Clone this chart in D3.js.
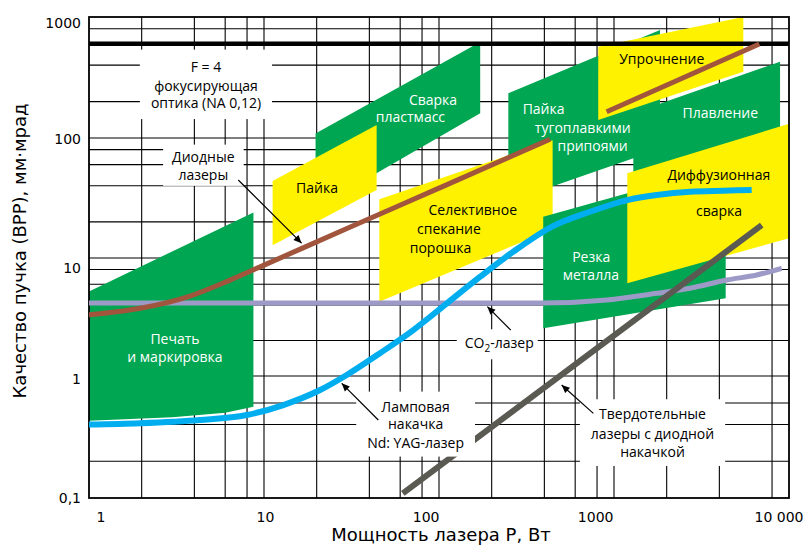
<!DOCTYPE html>
<html>
<head>
<meta charset="utf-8">
<script src="https://cdn.jsdelivr.net/npm/d3@7"></script>
<style>
  html, body { margin: 0; padding: 0; background: #fff; }
  svg { display: block; }
</style>
</head>
<body>
<svg id="chart" width="804" height="553"></svg>
<script>
// ---- axes ----
const xTicks = [1, 10, 100, 1000, 10000];
const xTickLabels = ["1", "10", "100", "1000", "10 000"];
const yTicks = [0.1, 1, 10, 100, 1000];
const yTickLabels = ["0,1", "1", "10", "100", "1000"];
const xGridValues = [2, 4, 6, 8, 10, 20, 40, 60, 80, 100, 200, 400, 600, 800, 1000, 2000, 4000, 8000];
const yGridValues = [0.2, 0.4, 0.6, 1, 2, 4, 6, 8, 10, 20, 40, 60, 80, 100, 200, 400, 800];
const xTitle = "Мощность лазера P, Вт";
const yTitle = "Качество пучка (BPP), мм·мрад";

// BPP limit for F = 4 focusing optics (NA 0,12)
const opticsLimit = 600;

// ---- application areas: corners as [power W, BPP mm·mrad] ----
const printMarking     = [[1, 5.2], [8.7, 24], [8.7, 0.56], [6, 0.50], [3, 0.46], [1, 0.43]];
const plasticWelding   = [[19.7, 109], [172, 621], [172, 160], [19.7, 25.8]];
const soldering        = [[11.2, 43.8], [44, 128], [44, 36.9], [11.2, 12.8]];
const brazing          = [[249, 234], [1832, 781], [1832, 81], [249, 29.4]];
const powderSintering  = [[45.6, 30.9], [446, 96], [446, 17.4], [45.6, 4.26]];
const melting          = [[1289, 161], [8890, 427], [8890, 121], [1289, 49.2]];
const hardening        = [[813, 569], [5483, 1000], [5483, 353], [813, 141]];
const metalCutting     = [[394, 22.1], [4348, 58.7], [4348, 4.55], [394, 2.54]];
const diffusionWelding = [[1191, 50.8], [10000, 131], [10000, 14.6], [1191, 6.1]];

// ---- laser source curves: [power W, BPP mm·mrad] ----
const diodeLaser = [[1, 3.3], [1.96, 3.75], [3.78, 4.76], [6.4, 6.5], [10, 8.7], [30, 17.7], [100, 38.2], [250, 68.7], [431, 97.5]];
const diodeLaserHigh = [[908, 165], [6767, 599]];
const co2Laser = [[1, 4.15], [30, 4.15], [380, 4.15], [908, 4.41], [1754, 5.02], [2716, 5.54], [4406, 6.51], [6538, 7.18], [9087, 8.18]];
const lampNdYag = [[1, 0.40], [1.96, 0.41], [4.31, 0.436], [7.96, 0.479], [12.9, 0.578], [20.9, 0.767], [29.7, 1.02],
                   [46, 1.56], [71.3, 2.45], [111, 4.13], [172, 6.94], [266, 11.3], [440, 18.2], [729, 24.3],
                   [1191, 30.4], [1754, 33.5], [2716, 35.7], [4213, 36.4], [6121, 36.9]];
const diodePumpedSolid = [[62.1, 0.109], [6982, 18.8]];

// ---- text labels: [text, power, BPP] for the centre of each line ----
const opticsLabel    = [["F = 4", 4.66, 388], ["фокусирующая", 4.66, 269], ["оптика (NA 0,12)", 4.66, 194]];
const printLabel     = [["Печать", 3.10, 2.05], ["и маркировка", 3.10, 1.46]];
const plasticLabel   = [["Сварка", 92.4, 206], ["пластмасс", 68.7, 148]];
const solderLabel    = [["Пайка", 20.1, 38.1]];
const sinterLabel    = [["Селективное", 156, 25.1], ["спекание", 114, 17.3], ["порошка", 102, 12.0]];
const brazeLabel     = [["Пайка", 396, 172], ["тугоплавкими", 663, 121], ["припоями", 754, 85.5]];
const hardenLabel    = [["Упрочнение", 1874, 447]];
const meltLabel      = [["Плавление", 4050, 160]];
const diffusionLabel = [["Диффузионная", 3972, 49.2], ["сварка", 3981, 24.8]];
const cutLabel       = [["Резка", 741, 10.1], ["металла", 737, 7.18]];
const diodeLabel     = [["Диодные", 4.50, 69.8], ["лазеры", 4.50, 49.2]];
const co2Label       = [221, 1.89];
const lampLabel      = [["Ламповая", 73.5, 0.56], ["накачка", 73.5, 0.40], ["Nd: YAG-лазер", 73.5, 0.284]];
const solidLabel     = [["Твердотельные", 1660, 0.485], ["лазеры с диодной", 1660, 0.335], ["накачкой", 1660, 0.238]];

// pointer arrows: [from, to]
const diodeArrow = [[7.13, 44.7], [16.4, 13.3]];
const co2Arrow   = [[257, 2.45], [189, 3.87]];
const lampArrow  = [[45, 0.436], [27.8, 0.871]];
const solidArrow = [[762, 0.494], [502, 0.843]];

// ---- drawing ----
const GREEN = "#00a651", YELLOW = "#fff200";
const BROWN = "#a2553d", BLUE = "#00aeef", LAVENDER = "#9e9ac8", DARK = "#5a5a52";
const LABEL_FONT = "'Open Sans', 'DejaVu Sans', sans-serif";
const AXIS_FONT = "'DejaVu Sans', sans-serif";

const svg = d3.select("#chart");
const x = d3.scaleLog().domain([1, 10000]).range([89, 789]);
const y = d3.scaleLog().domain([0.1, 1, 10, 100, 1000]).range([498, 376, 258, 138, 17]);

const x0 = x(1), x1 = x(10000), yTop = y(1000), yBot = y(0.1);

svg.append("defs").append("clipPath").attr("id", "plot-clip")
  .append("rect").attr("x", x0).attr("y", yTop).attr("width", x1 - x0).attr("height", yBot - yTop);

const marker = svg.select("defs").append("marker")
  .attr("id", "arrowhead").attr("viewBox", "0 0 10 10")
  .attr("refX", 10).attr("refY", 5)
  .attr("markerWidth", 9).attr("markerHeight", 8)
  .attr("markerUnits", "userSpaceOnUse").attr("orient", "auto");
marker.append("path").attr("d", "M0,0.5 L10,5 L0,9.5 Z").attr("fill", "#000");

// grid
const grid = svg.append("g").attr("stroke", "#000").attr("stroke-width", 1.1);
grid.selectAll("line.gx").data(xGridValues).join("line")
  .attr("x1", d => x(d)).attr("x2", d => x(d)).attr("y1", yTop).attr("y2", yBot);
grid.selectAll("line.gy").data(yGridValues).join("line")
  .attr("y1", d => y(d)).attr("y2", d => y(d)).attr("x1", x0).attr("x2", x1);

// application areas
const areas = svg.append("g").attr("clip-path", "url(#plot-clip)");
const poly = d3.line().x(d => x(d[0])).y(d => y(d[1])).curve(d3.curveLinearClosed);
[
  [printMarking, GREEN],
  [plasticWelding, GREEN],
  [soldering, YELLOW],
  [brazing, GREEN],
  [powderSintering, YELLOW],
  [melting, GREEN],
  [hardening, YELLOW],
  [metalCutting, GREEN],
  [diffusionWelding, YELLOW]
].forEach(([pts, fill]) => {
  areas.append("path").attr("d", poly(pts)).attr("fill", fill);
});

// frame
svg.append("rect").attr("x", x0).attr("y", yTop).attr("width", x1 - x0).attr("height", yBot - yTop)
  .attr("fill", "none").attr("stroke", "#000").attr("stroke-width", 1.8);

// optics limit
svg.append("line").attr("x1", x0).attr("x2", x1)
  .attr("y1", y(opticsLimit)).attr("y2", y(opticsLimit))
  .attr("stroke", "#000").attr("stroke-width", 4.5);

// laser curves
const curves = svg.append("g").attr("clip-path", "url(#plot-clip)").attr("fill", "none");
const smooth = d3.line().x(d => x(d[0])).y(d => y(d[1])).curve(d3.curveMonotoneX);
[
  [co2Laser, LAVENDER, 5],
  [lampNdYag, BLUE, 6],
  [diodeLaser, BROWN, 5],
  [diodeLaserHigh, BROWN, 5],
  [diodePumpedSolid, DARK, 6]
].forEach(([pts, color, w]) => {
  curves.append("path").attr("d", smooth(pts)).attr("stroke", color).attr("stroke-width", w);
});

// labels
const labels = svg.append("g").attr("font-family", LABEL_FONT).attr("font-size", 14);
function drawLabel(lines, color, pad) {
  const g = labels.append("g");
  lines.forEach(([t, p, v]) => {
    g.append("text").attr("x", x(p)).attr("y", y(v)).attr("dy", "0.35em")
      .attr("text-anchor", "middle").attr("fill", color).text(t);
  });
  if (pad) {
    const bb = g.node().getBBox();
    g.insert("rect", "text")
      .attr("x", bb.x - pad[0]).attr("y", bb.y - pad[1])
      .attr("width", bb.width + 2 * pad[0]).attr("height", bb.height + 2 * pad[1])
      .attr("fill", "#fff");
  }
  return g;
}
drawLabel(opticsLabel, "#000", [11, 7]);
drawLabel(printLabel, "#fff");
drawLabel(plasticLabel, "#fff");
drawLabel(solderLabel, "#000");
drawLabel(sinterLabel, "#000");
drawLabel(brazeLabel, "#fff");
drawLabel(hardenLabel, "#000");
drawLabel(meltLabel, "#fff");
drawLabel(diffusionLabel, "#000");
drawLabel(cutLabel, "#fff");
drawLabel(diodeLabel, "#000", [9, 2]);
drawLabel(lampLabel, "#000", [11, 5]);
drawLabel(solidLabel, "#000", [11, 5]);

// CO2 label with subscript
{
  const g = labels.append("g");
  const t = g.append("text").attr("x", x(co2Label[0])).attr("y", y(co2Label[1])).attr("dy", "0.35em")
    .attr("text-anchor", "middle").attr("fill", "#000");
  t.append("tspan").text("CO");
  t.append("tspan").attr("font-size", 10).attr("dy", 4).text("2");
  t.append("tspan").attr("dy", -4).text("-лазер");
  const bb = g.node().getBBox();
  g.insert("rect", "text").attr("x", bb.x - 8).attr("y", bb.y - 4)
    .attr("width", bb.width + 12).attr("height", bb.height + 8).attr("fill", "#fff");
}

// arrows
const arrows = svg.append("g").attr("stroke", "#000").attr("stroke-width", 1.2);
[diodeArrow, co2Arrow, lampArrow, solidArrow].forEach(([a, b]) => {
  arrows.append("line")
    .attr("x1", x(a[0])).attr("y1", y(a[1]))
    .attr("x2", x(b[0])).attr("y2", y(b[1]))
    .attr("marker-end", "url(#arrowhead)");
});

// tick labels
const xAlign = { 1: ["start", 7], 10: ["middle", 1], 100: ["end", 0], 1000: ["end", -1], 10000: ["end", 14] };
const gx = svg.append("g").attr("transform", `translate(0,${yBot})`)
  .call(d3.axisBottom(x).tickValues(xTicks).tickFormat((d, i) => xTickLabels[i]).tickSize(0));
gx.select(".domain").remove();
gx.attr("font-family", AXIS_FONT).attr("font-size", 14);
gx.selectAll("text").attr("fill", "#000").attr("y", 19).attr("dy", "0.35em")
  .attr("text-anchor", d => xAlign[d][0]).attr("dx", d => xAlign[d][1]);

const yShift = { 0.1: -1, 1: 2, 10: 9, 100: 0, 1000: 5 };
const gy = svg.append("g").attr("transform", `translate(${x0},0)`)
  .call(d3.axisLeft(y).tickValues(yTicks).tickFormat((d, i) => yTickLabels[i]).tickSize(0).tickPadding(8));
gy.select(".domain").remove();
gy.attr("font-family", AXIS_FONT).attr("font-size", 14);
gy.selectAll("text").attr("fill", "#000")
  .attr("dy", null).attr("y", d => yShift[d]).attr("dominant-baseline", "central");

// axis titles
svg.append("text").attr("x", 441).attr("y", 535).attr("dy", "0.35em")
  .attr("text-anchor", "middle").attr("font-family", AXIS_FONT).attr("font-size", 18)
  .attr("fill", "#000").text(xTitle);
svg.append("text").attr("transform", "translate(20,251) rotate(-90)").attr("dy", "0.35em")
  .attr("text-anchor", "middle").attr("font-family", AXIS_FONT).attr("font-size", 18)
  .attr("fill", "#000").text(yTitle);
</script>
</body>
</html>
